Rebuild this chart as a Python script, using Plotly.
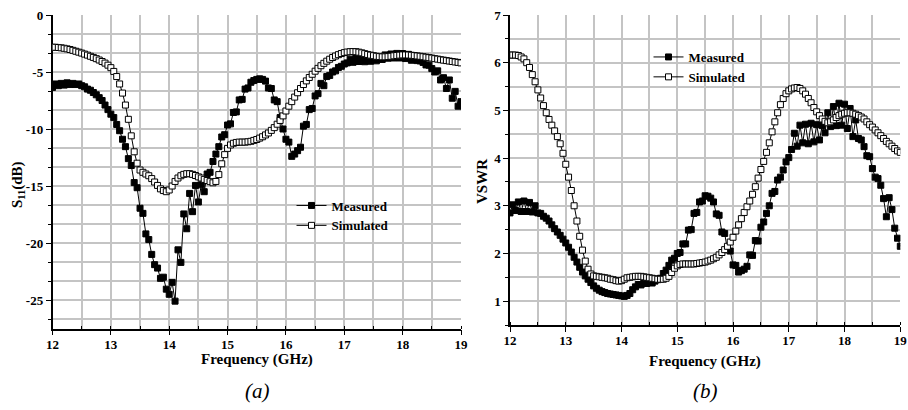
import numpy as np
import plotly.graph_objects as go

# Frequency sweep (GHz), 0.05 GHz steps
freq = np.round(np.arange(12.0, 19.0001, 0.05), 2)

# (a) S11 in dB
s11_measured = [
    -6.35, -6.05, -6.2, -6.0, -6.15, -5.95, -6.1, -6.0, -6.1, -6.05, -6.2, -6.3, -6.5, -6.6, -6.8, -7.0, -7.25, -7.5, -7.9, -8.3,
    -8.7, -9.0, -9.6, -10.15, -10.9, -11.55, -12.6, -13.2, -14.7, -15.15, -16.95, -17.4, -19.2, -19.7, -21.0, -21.9, -22.2, -23.1, -23.0, -24.05,
    -24.5, -23.45, -25.1, -20.6, -21.7, -17.45, -18.75, -15.65, -17.25, -14.95, -16.4, -14.9, -15.5, -13.95, -13.8, -12.85, -12.2, -11.55, -10.7, -10.5,
    -9.65, -9.55, -8.55, -8.5, -7.45, -7.4, -6.5, -6.4, -5.9, -5.75, -5.65, -5.6, -5.65, -5.8, -6.4, -6.45, -7.45, -7.6, -9.0, -10.0,
    -10.9, -11.15, -12.4, -12.2, -11.9, -11.6, -9.75, -9.6, -8.3, -8.2, -7.1, -6.9, -6.0, -6.2, -5.4, -5.3, -5.0, -4.9, -4.6, -4.5,
    -4.3, -4.2, -3.88, -4.15, -3.77, -4.08, -3.75, -4.1, -3.73, -4.06, -3.76, -4.02, -3.78, -3.9, -3.5, -3.79, -3.42, -3.77, -3.37, -3.77,
    -3.38, -3.82, -3.45, -3.97, -3.65, -4.0, -4.03, -4.16, -4.38, -4.4, -4.7, -5.0, -4.9, -5.7, -5.5, -6.45, -5.7, -7.3, -6.7, -8.0,
    -7.6,
]
s11_simulated = [
    -2.83, -2.83, -2.85, -2.88, -2.92, -2.97, -3.03, -3.10, -3.18, -3.26, -3.34, -3.43, -3.52, -3.62, -3.72, -3.83, -3.95, -4.08, -4.22, -4.40,
    -4.62, -4.95, -5.40, -6.05, -6.85, -7.90, -9.15, -10.6, -12.0, -13.0, -13.6, -13.8, -13.95, -14.1, -14.35, -14.65, -14.95, -15.25, -15.4, -15.5,
    -15.35, -15.0, -14.6, -14.3, -14.1, -13.98, -13.92, -13.92, -13.98, -14.08, -14.2, -14.3, -14.42, -14.52, -14.62, -14.72, -14.6, -14.0, -13.05, -12.25,
    -11.7, -11.4, -11.25, -11.18, -11.15, -11.15, -11.15, -11.12, -11.08, -11.0, -10.92, -10.8, -10.68, -10.52, -10.35, -10.12, -9.88, -9.58, -9.25, -8.85,
    -8.42, -8.0, -7.6, -7.2, -6.82, -6.45, -6.1, -5.78, -5.48, -5.2, -4.93, -4.68, -4.45, -4.24, -4.05, -3.88, -3.73, -3.6, -3.48, -3.38,
    -3.3, -3.25, -3.22, -3.21, -3.22, -3.26, -3.32, -3.39, -3.46, -3.52, -3.57, -3.62, -3.65, -3.67, -3.67, -3.65, -3.62, -3.58, -3.55, -3.52,
    -3.5, -3.5, -3.51, -3.53, -3.56, -3.59, -3.62, -3.66, -3.7, -3.74, -3.78, -3.83, -3.87, -3.92, -3.96, -4.0, -4.04, -4.08, -4.12, -4.16,
    -4.2,
]

# (b) VSWR
vswr_measured = [
    2.85, 3.02, 2.9, 3.08, 2.88, 3.1, 2.88, 3.07, 2.87, 3.0, 2.85, 2.84, 2.78, 2.74, 2.68, 2.6, 2.52, 2.45, 2.38, 2.3,
    2.22, 2.13, 2.03, 1.92, 1.82, 1.71, 1.61, 1.53, 1.46, 1.39, 1.32, 1.27, 1.23, 1.2, 1.18, 1.16, 1.15, 1.14, 1.13, 1.12,
    1.11, 1.1, 1.12, 1.16, 1.24, 1.3, 1.35, 1.34, 1.38, 1.37, 1.4, 1.38, 1.42, 1.45, 1.48, 1.58, 1.65, 1.75, 1.86, 1.9,
    2.0, 2.02, 2.2, 2.2, 2.49, 2.5, 2.84, 2.86, 3.08, 3.1, 3.21, 3.2, 3.16, 3.08, 2.83, 2.8, 2.45, 2.42, 2.08, 2.05,
    1.76, 1.75, 1.61, 1.64, 1.67, 1.73, 1.97, 1.96, 2.27, 2.26, 2.55, 2.66, 2.84, 3.0, 3.26, 3.3, 3.54, 3.6, 3.75, 3.92,
    4.01, 4.18, 4.52, 4.25, 4.69, 4.32, 4.71, 4.3, 4.73, 4.34, 4.7, 4.38, 4.68, 4.53, 4.95, 4.66, 5.08, 4.68, 5.15, 4.69,
    5.13, 4.62, 5.04, 4.45, 4.8, 4.41, 4.38, 4.24, 4.05, 4.03, 3.78, 3.6, 3.57, 3.43, 3.15, 2.77, 3.17, 2.92, 2.53, 2.32,
    2.15,
]
vswr_simulated = [
    6.16, 6.16, 6.16, 6.15, 6.12, 6.08, 6.0, 5.9, 5.75, 5.6, 5.43, 5.26, 5.1, 4.95, 4.81, 4.69, 4.57, 4.45, 4.3, 4.1,
    3.87, 3.6, 3.32, 3.0, 2.68, 2.36, 2.07, 1.84, 1.67, 1.57, 1.53, 1.52, 1.51, 1.5, 1.49, 1.48, 1.46, 1.45, 1.43, 1.42,
    1.43, 1.46, 1.49, 1.5, 1.51, 1.52, 1.52, 1.52, 1.51, 1.5, 1.49, 1.48, 1.47, 1.46, 1.46, 1.46, 1.48, 1.52, 1.6, 1.69,
    1.74, 1.77, 1.78, 1.78, 1.78, 1.78, 1.78, 1.79, 1.8, 1.81, 1.82, 1.84, 1.86, 1.89, 1.92, 1.97, 2.02, 2.08, 2.15, 2.24,
    2.34, 2.47, 2.6, 2.73, 2.86, 2.98, 3.1, 3.24, 3.4, 3.58, 3.76, 3.93, 4.12, 4.32, 4.55, 4.76, 4.95, 5.12, 5.25, 5.35,
    5.41, 5.45, 5.47, 5.48, 5.46, 5.41, 5.34, 5.25, 5.16, 5.06, 4.97, 4.89, 4.82, 4.77, 4.74, 4.76, 4.8, 4.85, 4.89, 4.92,
    4.94, 4.95, 4.95, 4.94, 4.92, 4.89, 4.86, 4.82, 4.76, 4.7, 4.65, 4.59, 4.53, 4.47, 4.41, 4.35, 4.3, 4.25, 4.2, 4.15,
    4.12,
]

# Tick labels (hyphen-minus as in the original figure)
s11_ticks = [0, -5, -10, -15, -20, -25]
s11_ticktext = ["0", "-5", "-10", "-15", "-20", "-25"]

FONT = "Liberation Serif"
GRID = "#c4c4c4"
W, H = 908, 410
ML, MR, MT, MB = 10, 4, 10, 10  # page margins (px)


def px_x(px):
    return (px - ML) / (W - ML - MR)


def px_y(py):
    return (H - MB - py) / (H - MT - MB)


fig = go.Figure()


def add_pair(xa, ya, meas, sim, legend):
    fig.add_trace(go.Scatter(
        x=freq, y=meas, name="Measured", mode="lines+markers",
        xaxis=xa, yaxis=ya, legend=legend,
        line=dict(color="black", width=1),
        marker=dict(symbol="square", size=6, color="black",
                    line=dict(color="black", width=1)),
    ))
    fig.add_trace(go.Scatter(
        x=freq, y=sim, name="Simulated", mode="lines+markers",
        xaxis=xa, yaxis=ya, legend=legend,
        line=dict(color="black", width=1),
        marker=dict(symbol="square", size=6, color="white",
                    line=dict(color="black", width=1)),
    ))


add_pair("x", "y", s11_measured, s11_simulated, "legend")
add_pair("x2", "y2", vswr_measured, vswr_simulated, "legend2")

tickfont = dict(family=FONT, size=13, color="black", weight="bold")


def axis_cfg(domain, anchor, rng, dtick, tick0, mdt, minor_ticks, extra=None):
    d = dict(
        domain=domain, anchor=anchor, range=rng,
        tickmode="linear", dtick=dtick, tick0=tick0,
        showgrid=True, gridcolor=GRID, gridwidth=1.5,
        showline=True, linecolor="black", linewidth=1.5,
        ticks="outside", ticklen=5, tickwidth=1.2, tickcolor="black",
        tickfont=tickfont, automargin=False,
        minor=dict(dtick=mdt, showgrid=True, gridcolor=GRID, gridwidth=1.5,
                   ticks=minor_ticks, ticklen=3, tickwidth=1.2, tickcolor="black"),
        zeroline=False, mirror=False, fixedrange=True, layer="below traces",
    )
    if extra:
        d.update(extra)
    return d


# map plotly's typographic minus to the hyphen used in the original labels
s11_alias = {("\u2212" + t[1:]) if t.startswith("-") else t: t for t in s11_ticktext}

fig.update_layout(
    width=W, height=H,
    margin=dict(l=ML, r=MR, t=MT, b=MB, autoexpand=False),
    paper_bgcolor="white", plot_bgcolor="white",
    showlegend=True,
    xaxis=axis_cfg([px_x(52.5), px_x(461)], "y", [12, 19], 1, 12, 0.5, "inside",
                   dict(ticklabelstandoff=-2)),
    yaxis=axis_cfg([px_y(328.5), px_y(15)], "x", [-27.5, 0], 5, 0, 5 / 3, "outside",
                   dict(labelalias=s11_alias)),
    xaxis2=axis_cfg([px_x(510), px_x(900.3)], "y2", [12, 19], 1, 12, 0.5, "inside",
                    dict(ticklabelstandoff=-2)),
    yaxis2=axis_cfg([px_y(325), px_y(15)], "x2", [0.5, 7], 1, 0, 0.5, "outside"),
)

legend_common = dict(
    font=dict(family=FONT, size=13, color="black", weight="bold"),
    bgcolor="rgba(0,0,0,0)", borderwidth=0, itemwidth=30,
    xanchor="left", yanchor="top", tracegroupgap=0,
)
fig.update_layout(
    legend=dict(x=px_x(291.5), y=px_y(190.5), **legend_common),
    legend2=dict(x=px_x(648.5), y=px_y(42), **legend_common),
)

title_font = dict(family=FONT, size=15, color="black")
ann = [
    dict(text="<b>Frequency (GHz)</b>", x=px_x(257), y=px_y(359), font=title_font),
    dict(text="<b>Frequency (GHz)</b>", x=px_x(705), y=px_y(361), font=title_font),
    dict(text="<b>S<sub>11</sub>(dB)</b>", x=px_x(18), y=px_y(185), font=title_font, textangle=-90),
    dict(text="<b>VSWR</b>", x=px_x(482), y=px_y(182), font=title_font, textangle=-90),
    dict(text="<i>(a)</i>", x=px_x(257), y=px_y(391),
         font=dict(family=FONT, size=21, color="black")),
    dict(text="<i>(b)</i>", x=px_x(705), y=px_y(391),
         font=dict(family=FONT, size=21, color="black")),
]
for a in ann:
    fig.add_annotation(xref="paper", yref="paper", showarrow=False,
                       xanchor="center", yanchor="middle", **a)

fig.write_html(
    "out.html",
    config={"displayModeBar": False},
    post_script="document.body.style.margin='0';document.body.style.overflow='hidden';",
)
